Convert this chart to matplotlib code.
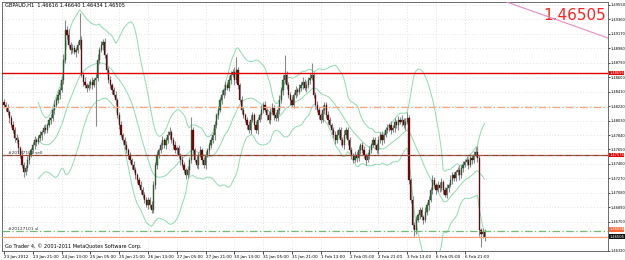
import numpy as np
import pandas as pd
import matplotlib
matplotlib.use("Agg")
import matplotlib.pyplot as plt

# H1 closes, GBPAUD
close = [
    1.4824, 1.4820, 1.4814, 1.4806, 1.4797, 1.4791, 1.4780, 1.4777, 1.4767, 1.4758,
    1.4745, 1.4735, 1.4741, 1.4751, 1.4758, 1.4764, 1.4771, 1.4777, 1.4775, 1.4780,
    1.4784, 1.4788, 1.4793, 1.4791, 1.4797, 1.4804, 1.4806, 1.4817, 1.4824, 1.4830,
    1.4837, 1.4843, 1.4856, 1.4883, 1.4922, 1.4916, 1.4902, 1.4896, 1.4898, 1.4893,
    1.4896, 1.4902, 1.4909, 1.4863, 1.4854, 1.4850, 1.4846, 1.4850, 1.4854, 1.4850,
    1.4856, 1.4859, 1.4883, 1.4896, 1.4902, 1.4906, 1.4889, 1.4870, 1.4856, 1.4850,
    1.4843, 1.4837, 1.4830, 1.4810, 1.4797, 1.4784, 1.4777, 1.4771, 1.4764, 1.4758,
    1.4751, 1.4745, 1.4738, 1.4731, 1.4725, 1.4718, 1.4712, 1.4705, 1.4699, 1.4692,
    1.4699, 1.4692, 1.4685, 1.4718, 1.4745, 1.4758, 1.4764, 1.4771, 1.4777, 1.4771,
    1.4777, 1.4784, 1.4788, 1.4777, 1.4771, 1.4764, 1.4767, 1.4758, 1.4751, 1.4745,
    1.4738, 1.4731, 1.4738, 1.4751, 1.4791, 1.4764, 1.4751, 1.4745, 1.4758, 1.4764,
    1.4751, 1.4745, 1.4758, 1.4764, 1.4771, 1.4777, 1.4784, 1.4797, 1.4810, 1.4817,
    1.4830, 1.4837, 1.4843, 1.4850, 1.4846, 1.4856, 1.4863, 1.4867, 1.4856, 1.4870,
    1.4850, 1.4830, 1.4817, 1.4810, 1.4804, 1.4797, 1.4791, 1.4804, 1.4810, 1.4797,
    1.4791, 1.4804, 1.4810, 1.4817, 1.4824, 1.4817, 1.4810, 1.4804, 1.4814, 1.4820,
    1.4810, 1.4806, 1.4817, 1.4830, 1.4843, 1.4856, 1.4863, 1.4850, 1.4837, 1.4830,
    1.4824, 1.4837, 1.4843, 1.4841, 1.4846, 1.4850, 1.4854, 1.4846, 1.4850, 1.4856,
    1.4859, 1.4863, 1.4837, 1.4824, 1.4817, 1.4810, 1.4804, 1.4817, 1.4824, 1.4810,
    1.4804, 1.4797, 1.4791, 1.4784, 1.4777, 1.4784, 1.4791, 1.4777, 1.4771, 1.4784,
    1.4791, 1.4777, 1.4764, 1.4758, 1.4751, 1.4758, 1.4754, 1.4764, 1.4771, 1.4764,
    1.4758, 1.4751, 1.4758, 1.4764, 1.4771, 1.4777, 1.4771, 1.4764, 1.4777, 1.4784,
    1.4777, 1.4784, 1.4791, 1.4793, 1.4797, 1.4791, 1.4793, 1.4801, 1.4797, 1.4804,
    1.4801, 1.4804, 1.4797, 1.4801, 1.4806, 1.4725, 1.4699, 1.4666, 1.4659, 1.4672,
    1.4679, 1.4685, 1.4676, 1.4672, 1.4683, 1.4692, 1.4699, 1.4712, 1.4725, 1.4718,
    1.4712, 1.4718, 1.4714, 1.4722, 1.4712, 1.4705, 1.4714, 1.4718, 1.4725, 1.4731,
    1.4728, 1.4735, 1.4738, 1.4731, 1.4741, 1.4745, 1.4748, 1.4751, 1.4745, 1.4754,
    1.4751, 1.4758, 1.4762, 1.4754, 1.4659, 1.4654, 1.4657, 1.46505,
]
first_open = 1.4828

# wick lengths above / below the body, in pips
wick_up = [
    4, 3, 5, 3, 4, 6, 3, 5, 4, 3, 6, 4, 3, 5, 4, 3, 4, 6, 3, 4,
    5, 3, 4, 6, 3, 4, 5, 3, 6, 4, 5, 4, 6, 8, 13, 5, 7, 4, 6, 5,
    4, 6, 36, 5, 4, 6, 3, 5, 4, 6, 3, 5, 7, 4, 6, 4, 5, 3, 4, 5,
    3, 4, 5, 3, 4, 6, 3, 4, 5, 3, 4, 3, 5, 4, 3, 4, 5, 3, 4, 3,
    4, 3, 5, 6, 4, 5, 3, 4, 6, 3, 4, 5, 6, 3, 4, 5, 3, 4, 3, 5,
    4, 3, 5, 4, 17, 4, 3, 5, 4, 6, 3, 4, 5, 3, 4, 5, 4, 6, 3, 5,
    4, 6, 3, 5, 4, 6, 5, 4, 6, 17, 4, 3, 5, 4, 3, 4, 5, 6, 4, 3,
    5, 4, 3, 6, 4, 5, 3, 4, 5, 6, 3, 4, 5, 6, 4, 7, 26, 5, 4, 3,
    5, 4, 6, 3, 5, 4, 6, 3, 5, 4, 6, 16, 4, 3, 5, 4, 3, 6, 4, 3,
    5, 4, 3, 4, 5, 6, 4, 3, 5, 6, 4, 3, 5, 4, 3, 5, 4, 6, 3, 4,
    5, 3, 4, 6, 3, 5, 4, 3, 6, 4, 5, 3, 4, 6, 3, 5, 4, 6, 3, 5,
    4, 6, 3, 5, 8, 4, 3, 5, 4, 6, 3, 5, 4, 3, 6, 4, 5, 3, 6, 4,
    3, 5, 4, 6, 3, 4, 5, 3, 6, 4, 5, 3, 4, 6, 3, 5, 4, 6, 3, 5,
    4, 5, 6, 7, 4, 3, 5, 4,
]
wick_dn = [
    3, 5, 4, 6, 3, 4, 5, 3, 6, 4, 5, 6, 3, 4, 5, 3, 4, 6, 5, 3,
    4, 6, 3, 5, 4, 3, 6, 4, 5, 3, 4, 6, 3, 5, 4, 6, 3, 5, 4, 3,
    6, 4, 5, 3, 6, 4, 5, 3, 4, 6, 3, 60, 4, 5, 3, 6, 4, 5, 3, 4,
    5, 3, 6, 4, 5, 3, 4, 6, 3, 5, 4, 6, 3, 5, 4, 3, 6, 4, 5, 3,
    5, 4, 4, 3, 5, 6, 4, 3, 5, 4, 6, 3, 5, 4, 6, 3, 5, 4, 6, 3,
    4, 5, 3, 6, 4, 5, 3, 4, 6, 3, 5, 4, 6, 3, 5, 4, 3, 6, 4, 5,
    3, 5, 4, 6, 3, 4, 5, 3, 6, 4, 5, 3, 6, 4, 3, 5, 4, 6, 3, 5,
    4, 6, 3, 5, 4, 3, 6, 4, 5, 3, 6, 4, 3, 5, 4, 6, 3, 5, 4, 6,
    3, 5, 4, 6, 3, 4, 5, 3, 6, 4, 5, 3, 4, 6, 3, 5, 4, 3, 6, 4,
    5, 3, 6, 4, 5, 3, 4, 6, 3, 5, 4, 6, 3, 5, 4, 3, 6, 4, 5, 3,
    4, 6, 3, 5, 4, 3, 6, 4, 5, 3, 6, 4, 3, 5, 4, 6, 3, 5, 4, 6,
    3, 5, 4, 6, 3, 5, 4, 6, 8, 5, 3, 6, 4, 5, 3, 4, 6, 3, 5, 4,
    6, 3, 5, 4, 6, 3, 4, 5, 3, 6, 4, 5, 3, 6, 4, 5, 3, 4, 6, 3,
    5, 4, 3, 6, 8, 17, 5, 6,
]

time_labels = ["23 Jan 2012", "23 Jan 21:00", "24 Jan 13:00", "25 Jan 05:00",
               "25 Jan 21:00", "26 Jan 13:00", "27 Jan 05:00", "27 Jan 21:00",
               "30 Jan 13:00", "31 Jan 05:00", "31 Jan 21:00", "1 Feb 13:00",
               "2 Feb 05:00", "2 Feb 21:00", "3 Feb 13:00", "6 Feb 05:00",
               "6 Feb 21:00"]
bars_per_label = 16

price_ticks = [1.49550, 1.49360, 1.49170, 1.48980, 1.48790, 1.48600, 1.48410,
               1.48220, 1.48030, 1.47840, 1.47650, 1.47460, 1.47270, 1.47080,
               1.46890, 1.46700, 1.46510, 1.46320]

# order / price levels
level_red = 1.48656
level_tp = 1.48210
level_open = 1.47578
level_sl = 1.46578
bid = 1.46505
trend_x = [275.6, 335.6]
trend_y = [1.49620, 1.49116]

small = ["Liberation Sans Narrow", "DejaVu Sans"]

n = len(close)
c = np.array(close)
o = np.r_[first_open, c[:-1]]
hi = np.maximum(o, c) + np.array(wick_up) * 0.0001
lo = np.minimum(o, c) - np.array(wick_dn) * 0.0001
x = np.arange(n)

s = pd.Series(c)
mid = s.rolling(20).mean()
sd = s.rolling(20).std(ddof=0)
upper = mid + 2 * sd
lower = mid - 2 * sd

fig = plt.figure(figsize=(6.25, 2.6), dpi=100)
ax = fig.add_axes([2 / 625, 1 - 251 / 260, 606 / 625, 249 / 260])
ax.set_xlim(-1.1, 335.6)
ax.set_ylim(1.46315, 1.49589)

# dotted grid
for k in range(len(time_labels)):
    ax.axvline(k * bars_per_label, color="#c8c8c8", lw=0.5, ls=(0, (1, 3)), zorder=0)
for p in price_ticks:
    ax.axhline(p, color="#c8c8c8", lw=0.5, ls=(0, (1, 3)), zorder=0)

band_col = "#8edbb0"
ax.plot(x, upper, color=band_col, lw=0.7, zorder=1)
ax.plot(x, mid, color=band_col, lw=0.7, zorder=1)
ax.plot(x, lower, color=band_col, lw=0.7, zorder=1)

# candles
ax.vlines(x, lo, hi, color="#8a8a8a", lw=0.8, zorder=2)
up = c >= o
body_h = np.maximum(np.abs(c - o), 0.00004)
ax.bar(x[up], body_h[up], bottom=o[up], width=0.7, color="#2f7d32",
       edgecolor="#1a1a1a", lw=0.2, zorder=3)
ax.bar(x[~up], body_h[~up], bottom=c[~up], width=0.7, color="#8b0000",
       edgecolor="#1a1a1a", lw=0.2, zorder=3)

ax.axhline(level_red, color="#e00000", lw=1.0, zorder=4)
ax.axhline(level_tp, color="#ffa27c", lw=0.9, ls=(0, (6, 2, 1, 2)), zorder=4)
ax.axhline(level_open, color="#b02020", lw=0.9, zorder=4)
ax.axhline(level_open, color="#6f7f50", lw=0.6, ls=(0, (6, 2, 1, 2)), zorder=4)
ax.axhline(level_sl, color="#6cbf6c", lw=0.9, ls=(0, (6, 2, 1, 2)), zorder=4)
ax.axhline(bid, color="#ff9a70", lw=0.8, zorder=4)
ax.plot(trend_x, trend_y, color="#e68ac8", lw=0.8, zorder=4)

ax.text(2, level_open + 0.00005, "#20127101 sell", fontsize=3.2, family=small,
        color="#333333", va="bottom", zorder=5)
ax.text(2, level_sl + 0.00005, "#20127101 sl", fontsize=3.2, family=small,
        color="#333333", va="bottom", zorder=5)

ax.text(0.005, 0.995, "GBPAUD,H1  1.46616 1.46640 1.46434 1.46505",
        transform=ax.transAxes, fontsize=3.6, family=small, va="top", ha="left")
ax.text(0.005, 0.01, "Go Trader 4, \u00a9 2001-2011 MetaQuotes Software Corp.",
        transform=ax.transAxes, fontsize=3.6, family=small, va="bottom", ha="left")
ax.text(0.9975, 0.975, "1.46505", transform=ax.transAxes, fontsize=11,
        color="#ff2020", va="top", ha="right")

# axes
ax.yaxis.tick_right()
ax.set_yticks(price_ticks)
ax.set_yticklabels(["%.5f" % p for p in price_ticks], fontsize=2.6, family=small)
ax.tick_params(axis="y", length=1.2, width=0.5, pad=0.5)
ax.set_xticks([k * bars_per_label for k in range(len(time_labels))])
ax.set_xticklabels(time_labels, fontsize=3.0, family=small, ha="left")
ax.tick_params(axis="x", length=2, width=0.5, pad=1)
for sp in ax.spines.values():
    sp.set_linewidth(0.6)
    sp.set_color("#555555")


# coloured price boxes on the right scale
def box(price, fc, txt="white"):
    ax.text(1.002, price, "%.5f" % price, transform=ax.get_yaxis_transform(),
            fontsize=2.6, family=small, color=txt, va="center", ha="left",
            clip_on=False, bbox=dict(boxstyle="square,pad=0.1", fc=fc, ec="none"),
            zorder=6)


box(level_red, "#e00000")
box(level_open, "#e00000")
box(level_sl + 0.0002, "#ff6a3a")
box(bid, "#111111")

fig.savefig("out.png", dpi=100)
